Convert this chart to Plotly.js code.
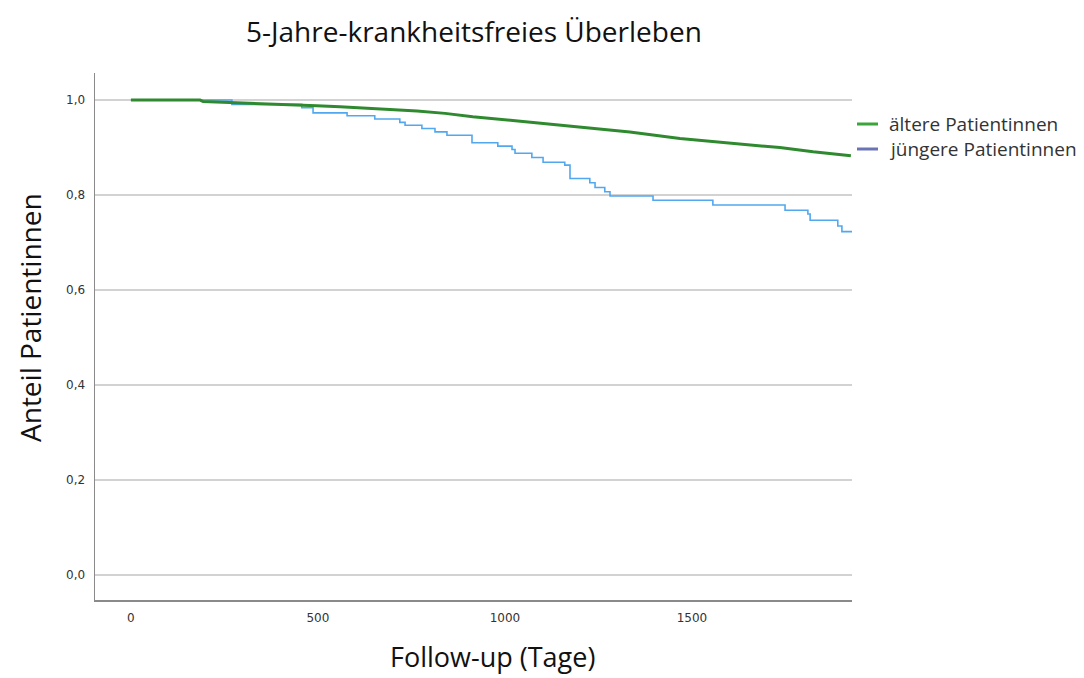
<!DOCTYPE html>
<html>
<head>
<meta charset="utf-8">
<script src="https://cdn.plot.ly/plotly-3.0.1.min.js"></script>
<style>html,body{margin:0;padding:0;background:#fff;}#chart{width:1084px;height:678px;}</style>
</head>
<body>
<div id="chart"></div>
<script>
// Follow-up days and survival proportions (Kaplan-Meier)
const olderDays = [0, 185, 193, 310, 425, 497, 559, 666, 765, 840, 914, 1021, 1128, 1201, 1334, 1468, 1602, 1735, 1824, 1925];
const olderSurv = [1.0, 1.0, 0.997, 0.994, 0.991, 0.988, 0.986, 0.982, 0.977, 0.972, 0.965, 0.957, 0.949, 0.944, 0.933, 0.919, 0.910, 0.900, 0.891, 0.883];

const youngerDays = [0, 270, 457, 487, 578, 652, 719, 733, 778, 813, 845, 912, 981, 1019, 1027, 1072, 1102, 1160, 1174, 1227, 1241, 1267, 1281, 1396, 1556, 1749, 1810, 1816, 1890, 1901, 1930];
const youngerSurv = [1.0, 0.991, 0.984, 0.973, 0.967, 0.960, 0.953, 0.947, 0.940, 0.933, 0.926, 0.910, 0.903, 0.896, 0.888, 0.879, 0.869, 0.863, 0.835, 0.826, 0.816, 0.807, 0.798, 0.789, 0.779, 0.768, 0.760, 0.747, 0.735, 0.723, 0.723];

const seriesNames = ["ältere Patientinnen", "jüngere Patientinnen"];
const xTicks = [0, 500, 1000, 1500];
const yTicks = [0, 0.2, 0.4, 0.6, 0.8, 1.0];

const traces = [
  {x: youngerDays, y: youngerSurv, mode: 'lines', line: {shape: 'hv', color: '#52a8ee', width: 1.6}, name: seriesNames[1], showlegend: false},
  {x: olderDays, y: olderSurv, mode: 'lines', line: {shape: 'linear', color: '#2f8a2f', width: 3}, name: seriesNames[0], showlegend: false}
];

// paper coords helpers for legend / titles
const W = 1084, H = 678, L = 95, R = 232, T = 73, B = 78;
const pw = W - L - R, ph = H - T - B;
const px = v => (v - L) / pw;
const py = v => (H - B - v) / ph;

const layout = {
  width: W, height: H,
  margin: {l: L, r: R, t: T, b: B, pad: 0},
  paper_bgcolor: '#ffffff', plot_bgcolor: '#ffffff',
  separators: ',.',
  showlegend: false,
  xaxis: {
    range: [-96, 1928], tickvals: xTicks, ticktext: xTicks.map(String),
    showgrid: false, zeroline: false, showline: true, linecolor: '#8a8a8a', linewidth: 1.5,
    ticks: '', ticklabelstandoff: 6,
    tickfont: {family: 'DejaVu Sans', size: 12, color: '#333333'}
  },
  yaxis: {
    range: [-0.0526, 1.057], tickvals: yTicks, tickformat: '.1f',
    showgrid: true, gridcolor: '#d2d2d2', gridwidth: 1.5, zeroline: false,
    showline: true, linecolor: '#8a8a8a', linewidth: 1.5,
    ticks: '', ticklabelstandoff: 6,
    tickfont: {family: 'DejaVu Sans', size: 12, color: '#333333'}
  },
  shapes: [
    {type: 'line', xref: 'paper', yref: 'paper', x0: px(857), x1: px(878), y0: py(124), y1: py(124), line: {color: '#3aa53a', width: 3}},
    {type: 'line', xref: 'paper', yref: 'paper', x0: px(857), x1: px(878), y0: py(149), y1: py(149), line: {color: '#6a74b4', width: 3}}
  ],
  annotations: [
    {text: '5-Jahre-krankheitsfreies Überleben', xref: 'paper', yref: 'paper', x: px(474), y: py(31), xanchor: 'center', yanchor: 'middle', showarrow: false, font: {family: 'Open Sans', size: 28, color: '#111111'}},
    {text: 'Anteil Patientinnen', xref: 'paper', yref: 'paper', x: px(30), y: py(318), xanchor: 'center', yanchor: 'middle', textangle: -90, showarrow: false, font: {family: 'Open Sans', size: 28, color: '#111111'}},
    {text: 'Follow-up (Tage)', xref: 'paper', yref: 'paper', x: px(493), y: py(656), xanchor: 'center', yanchor: 'middle', showarrow: false, font: {family: 'Open Sans', size: 27, color: '#111111'}},
    {text: seriesNames[0], xref: 'paper', yref: 'paper', x: px(887), y: py(124), xanchor: 'left', yanchor: 'middle', showarrow: false, font: {family: 'Open Sans', size: 19, color: '#333333'}},
    {text: seriesNames[1], xref: 'paper', yref: 'paper', x: px(887), y: py(149), xanchor: 'left', yanchor: 'middle', showarrow: false, font: {family: 'Open Sans', size: 19, color: '#333333'}}
  ]
};

Plotly.newPlot('chart', traces, layout, {staticPlot: true, displayModeBar: false});
</script>
</body>
</html>
